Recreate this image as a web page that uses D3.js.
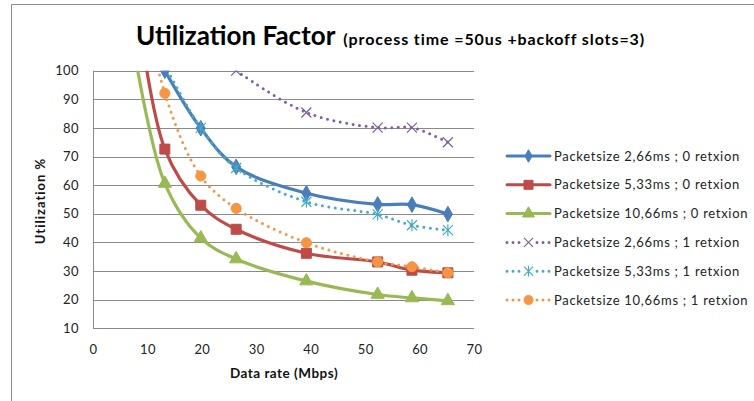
<!DOCTYPE html>
<html>
<head>
<meta charset="utf-8">
<script src="https://cdn.jsdelivr.net/npm/d3@7"></script>
<style>
  body { margin: 0; background: #fff; }
  svg { display: block; font-family: Lato, "Open Sans", sans-serif; }
</style>
</head>
<body>
<script>
// Utilization factor chart

const rates = [6.6, 13.2, 19.8, 26.3, 39.2, 52.3, 58.6, 65.2];

// values above 100 lie outside the plot (they only shape the curve)
const u266_0 = [null, 100, 79.9, 66.4, 57.2, 53.3, 53.2, 49.9];
const u533_0 = [145, 72.6, 53.0, 44.6, 36.2, 33.2, 30.3, 29.4];
const u1066_0 = [118, 60.6, 41.5, 34.2, 26.5, 21.8, 20.6, 19.6];
const u266_1 = [null, null, null, 100, 85.4, 80.1, 80.1, 75.0];
const u533_1 = [null, 102, 80.0, 66.0, 54.2, 49.8, 46.0, 44.3];
const u1066_1 = [152, 92.1, 63.2, 51.9, 39.9, 33.2, 31.5, 29.4];

const seriesNames = [
  "Packetsize 2,66ms ; 0 retxion",
  "Packetsize 5,33ms ; 0 retxion",
  "Packetsize 10,66ms ; 0 retxion",
  "Packetsize 2,66ms ; 1 retxion",
  "Packetsize 5,33ms ; 1 retxion",
  "Packetsize 10,66ms ; 1 retxion"
];
const seriesValues = [u266_0, u533_0, u1066_0, u266_1, u533_1, u1066_1];

const xTicks = [0, 10, 20, 30, 40, 50, 60, 70];
const yTicks = [10, 20, 30, 40, 50, 60, 70, 80, 90, 100];

const colors = ["#4A7EBB", "#BE4B48", "#98B954", "#7D60A0", "#46AAC5", "#F69544"];
const dotted = [false, false, false, true, true, true];
const markers = ["diamond", "square", "triangle", "x", "star", "circle"];

const W = 754, H = 401;
const plot = { left: 93, right: 474, top: 70.7, bottom: 328.3 };

const svg = d3.select("body").append("svg")
  .attr("width", W).attr("height", H);

// chart area frame
svg.append("path")
  .attr("d", `M11.5,${H} L11.5,4.5 L${W},4.5`)
  .attr("fill", "none").attr("stroke", "#8c8c8c").attr("stroke-width", 1);

const x = d3.scaleLinear().domain([0, 70]).range([plot.left, plot.right]);
const y = d3.scaleLinear().domain([10, 100]).range([plot.bottom, plot.top]);

// gridlines
svg.append("g").selectAll("line")
  .data(yTicks)
  .join("line")
  .attr("x1", plot.left).attr("x2", plot.right)
  .attr("y1", d => Math.round(y(d)) + 0.5).attr("y2", d => Math.round(y(d)) + 0.5)
  .attr("stroke", "#8a8a8a").attr("stroke-width", 1);

svg.append("line")
  .attr("x1", plot.left + 0.5).attr("x2", plot.left + 0.5)
  .attr("y1", y(100)).attr("y2", y(10))
  .attr("stroke", "#8a8a8a");

// axes labels
const yAxis = d3.axisLeft(y).tickValues(yTicks).tickSize(0).tickPadding(14);
svg.append("g")
  .attr("transform", `translate(${plot.left},0)`)
  .call(yAxis)
  .call(g => g.select(".domain").remove())
  .selectAll("text")
  .attr("font-size", 13).attr("fill", "#222").attr("font-family", "Lato")
  .attr("letter-spacing", 0.4);

const xAxis = d3.axisBottom(x).tickValues(xTicks).tickSize(0).tickPadding(16);
svg.append("g")
  .attr("transform", `translate(0,${plot.bottom})`)
  .call(xAxis)
  .call(g => g.select(".domain").remove())
  .selectAll("text")
  .attr("font-size", 13).attr("fill", "#222").attr("font-family", "Lato")
  .attr("letter-spacing", 0.4);

svg.append("text")
  .attr("x", 284).attr("y", 378)
  .attr("text-anchor", "middle")
  .attr("font-size", 13.5).attr("font-weight", "bold").attr("fill", "#111")
  .attr("letter-spacing", 0.5)
  .text("Data rate (Mbps)");

svg.append("text")
  .attr("transform", "translate(45,201) rotate(-90)")
  .attr("text-anchor", "middle")
  .attr("font-size", 13).attr("font-weight", "bold").attr("fill", "#111")
  .attr("letter-spacing", 1)
  .text("Utilization %");

// title
const title = svg.append("text")
  .attr("x", 136).attr("y", 45)
  .attr("fill", "#000").attr("font-weight", "bold");
title.append("tspan").attr("font-size", 26).text("Utilization Factor");
title.append("tspan").attr("font-size", 16).attr("dx", 8)
  .attr("letter-spacing", 0.9)
  .text("(process time =50us +backoff slots=3)");

// clip to plot area
svg.append("clipPath").attr("id", "plotclip")
  .append("rect")
  .attr("x", plot.left - 10).attr("y", plot.top)
  .attr("width", plot.right - plot.left + 20).attr("height", plot.bottom - plot.top);

function markerPath(type, s) {
  if (type === "diamond") return d3.symbol(d3.symbolDiamond, s * s * 0.7)();
  if (type === "square") return d3.symbol(d3.symbolSquare, s * s)();
  if (type === "triangle") return d3.symbol(d3.symbolTriangle, s * s * 0.75)();
  if (type === "circle") return d3.symbol(d3.symbolCircle, s * s * 0.8)();
  const h = s / 2;
  if (type === "x") return `M${-h},${-h}L${h},${h}M${-h},${h}L${h},${-h}`;
  return `M${-h},${-h}L${h},${h}M${-h},${h}L${h},${-h}M0,${-h * 1.2}L0,${h * 1.2}`;
}

function drawMarker(g, type, color, s) {
  const open = type === "x" || type === "star";
  g.append("path")
    .attr("d", markerPath(type, s))
    .attr("fill", open ? "none" : color)
    .attr("stroke", color)
    .attr("stroke-width", open ? 1.2 : 1);
}

const line = d3.line()
  .defined(d => d[1] != null)
  .x(d => x(d[0]))
  .y(d => y(d[1]))
  .curve(d3.curveCatmullRom.alpha(0.5));

const plotG = svg.append("g").attr("clip-path", "url(#plotclip)");

seriesValues.forEach((vals, i) => {
  const pts = rates.map((r, j) => [r, vals[j]]).filter(d => d[1] != null);
  plotG.append("path")
    .datum(pts)
    .attr("d", line)
    .attr("fill", "none")
    .attr("stroke", colors[i])
    .attr("stroke-width", dotted[i] ? 3 : 3.2)
    .attr("stroke-linecap", "round")
    .attr("stroke-dasharray", dotted[i] ? "0 6.5" : null);
});

seriesValues.forEach((vals, i) => {
  rates.forEach((r, j) => {
    const v = vals[j];
    if (v == null || v > 100) return;
    const g = plotG.append("g").attr("transform", `translate(${x(r)},${y(v)})`);
    drawMarker(g, markers[i], colors[i], 10);
  });
});

// legend
const legend = svg.append("g");
seriesNames.forEach((name, i) => {
  const ly = 156 + i * 28.8;
  const g = legend.append("g").attr("transform", `translate(0,${ly})`);
  g.append("line")
    .attr("x1", 507).attr("x2", 550)
    .attr("stroke", colors[i])
    .attr("stroke-width", 3)
    .attr("stroke-linecap", "round")
    .attr("stroke-dasharray", dotted[i] ? "0 6" : null);
  const m = g.append("g").attr("transform", "translate(528.5,0)");
  if (dotted[i]) m.append("rect").attr("x", -6).attr("y", -6).attr("width", 12).attr("height", 12).attr("fill", "#fff");
  drawMarker(m, markers[i], colors[i], markers[i] === "diamond" ? 8 : 9);
  g.append("text")
    .attr("x", 554).attr("y", 4.5)
    .attr("font-size", 13).attr("fill", "#222")
    .attr("letter-spacing", 0.7)
    .text(name);
});
</script>
</body>
</html>
